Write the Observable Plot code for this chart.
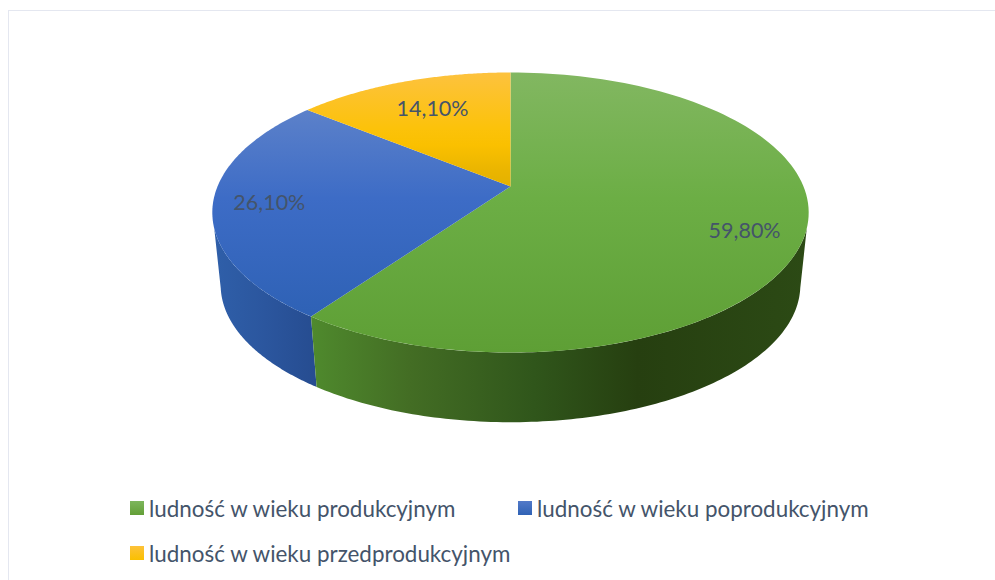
<!DOCTYPE html>
<html lang="pl">
<head>
<meta charset="utf-8">
<script src="https://cdn.jsdelivr.net/npm/d3@7"></script>
<script src="https://cdn.jsdelivr.net/npm/@observablehq/plot@0.6"></script>
<style>
  html, body { margin: 0; padding: 0; background: #fff; width: 995px; height: 580px; overflow: hidden; }
  #frame { position: absolute; left: 8px; top: 10px; width: 1000px; height: 600px; box-sizing: border-box; border: 1.5px solid #e4e7f0; }
  #chart { position: absolute; left: 0; top: 0; }
  #chart svg { background: transparent; }
  .lg { position: absolute; font: 22.4px Lato, "Open Sans", sans-serif; color: #44546a; white-space: nowrap; line-height: 30px; }
  .sw { position: absolute; width: 14px; height: 14px; }
</style>
</head>
<body>
<div id="frame"></div>
<div id="chart"></div>
<div id="legend"></div>
<script>
// Data
const categories = ["ludność w wieku produkcyjnym", "ludność w wieku poprodukcyjnym", "ludność w wieku przedprodukcyjnym"];
const values = [59.8, 26.1, 14.1];

// Styles
const topFills = ["url(#gTopGreen)", "url(#gTopBlue)", "url(#gTopYellow)"];
const swatches = [["#7db65c", "#639f37"], ["#5279c8", "#2f62b5"], ["#fdc23a", "#fac000"]];
const legendPlaces = [[130, 149, 494], [518, 537, 494], [130, 149, 539]];
const labelAt = [[0.799, -0.333], [-0.823, -0.125], [-0.266, 0.570]];

// Perspective of the pie: angle (clockwise from the back) to plot units
const tilt = 0.1857, depth = 0.54, shrinkX = 0.972, shrinkY = 0.98;
function rim(deg, lower) {
  const a = deg * Math.PI / 180, u = Math.sin(a), v = Math.cos(a), d = 1 + tilt * v;
  return lower ? {x: shrinkX * u / d, y: -depth + shrinkY * v / d} : {x: u / d, y: v / d};
}
const arc = (from, to, lower) => d3.range(0, 121).map(i => rim(from + (to - from) * i / 120, lower));

// Slice angles follow from the values
const total = d3.sum(values);
const cum = d3.cumsum(values);
const ends = Array.from(cum, c => c / total * 360);
const starts = [0, ...ends.slice(0, -1)];

const topShapes = values.map((_, i) => [{x: 0, y: 0}, ...arc(starts[i], ends[i], false), {x: 0, y: 0}]);

// Visible front wall, split where the green and blue slices meet
const wallGreen = [...arc(107, ends[0], false), ...arc(ends[0], 102, true)];
const wallBlue = [...arc(ends[0], 253, false), ...arc(258, ends[0], true)];

const labels = values.map((v, i) => ({
  text: v.toFixed(2).replace(".", ",") + "%",
  x: labelAt[i][0], y: labelAt[i][1]
}));

function grad(id, horizontal, from, to, stops) {
  const pos = horizontal ? `x1="${from}" x2="${to}" y1="0" y2="0"` : `y1="${from}" y2="${to}" x1="0" x2="0"`;
  return `<linearGradient id="${id}" gradientUnits="userSpaceOnUse" ${pos}>` +
    stops.map(([o, c]) => `<stop offset="${o}" stop-color="${c}"/>`).join("") + `</linearGradient>`;
}
const defs = () => {
  const g = document.createElementNS("http://www.w3.org/2000/svg", "defs");
  g.innerHTML =
    grad("gTopGreen", false, 72, 352, [[0, "#82b761"], [0.45, "#6cae45"], [1, "#5e9f35"]]) +
    grad("gTopBlue", false, 72, 352, [[0.1, "#5f83ca"], [0.45, "#3d6cc6"], [0.85, "#2f62b6"]]) +
    grad("gTopYellow", false, 72, 352, [[0, "#fdc23e"], [0.2, "#fcc20a"], [0.26, "#fac000"], [0.35, "#eab500"], [0.42, "#e2b000"]]) +
    grad("gWallGreen", true, 310, 806, [[0, "#4f8a2d"], [0.2, "#436d24"], [0.45, "#30561b"], [0.66, "#263f10"], [1, "#2c4a15"]]) +
    grad("gWallBlue", true, 214, 316, [[0, "#2f5fa9"], [0.5, "#2b569e"], [1, "#264c90"]]);
  return g;
};

const shape = (data, fill) => Plot.line(data, {x: "x", y: "y", fill, stroke: "none", curve: "linear"});

const plot = Plot.plot({
  width: 995,
  height: 480,
  margin: 0,
  x: {domain: [-1, 1], range: [217, 803], axis: null},
  y: {domain: [-1, 1], range: [321.2, 50.8], axis: null},
  marks: [
    defs,
    shape(wallBlue, "url(#gWallBlue)"),
    shape(wallGreen, "url(#gWallGreen)"),
    ...topShapes.map((s, i) => shape(s, topFills[i])),
    Plot.text(labels, {
      x: "x", y: "y", text: "text", fontSize: 21.5, fontFamily: "Lato, 'Open Sans', sans-serif",
      fill: "#44546a", textAnchor: "middle", lineAnchor: "middle"
    })
  ]
});
document.getElementById("chart").append(plot);

// Legend below the pie
const legend = document.getElementById("legend");
categories.forEach((name, i) => {
  const [sx, tx, ty] = legendPlaces[i];
  const sw = document.createElement("div");
  sw.className = "sw";
  sw.style.left = sx + "px";
  sw.style.top = (ty + 7) + "px";
  sw.style.background = `linear-gradient(${swatches[i][0]}, ${swatches[i][1]})`;
  const t = document.createElement("div");
  t.className = "lg";
  t.style.left = tx + "px";
  t.style.top = ty + "px";
  t.textContent = name;
  legend.append(sw, t);
});
</script>
</body>
</html>
